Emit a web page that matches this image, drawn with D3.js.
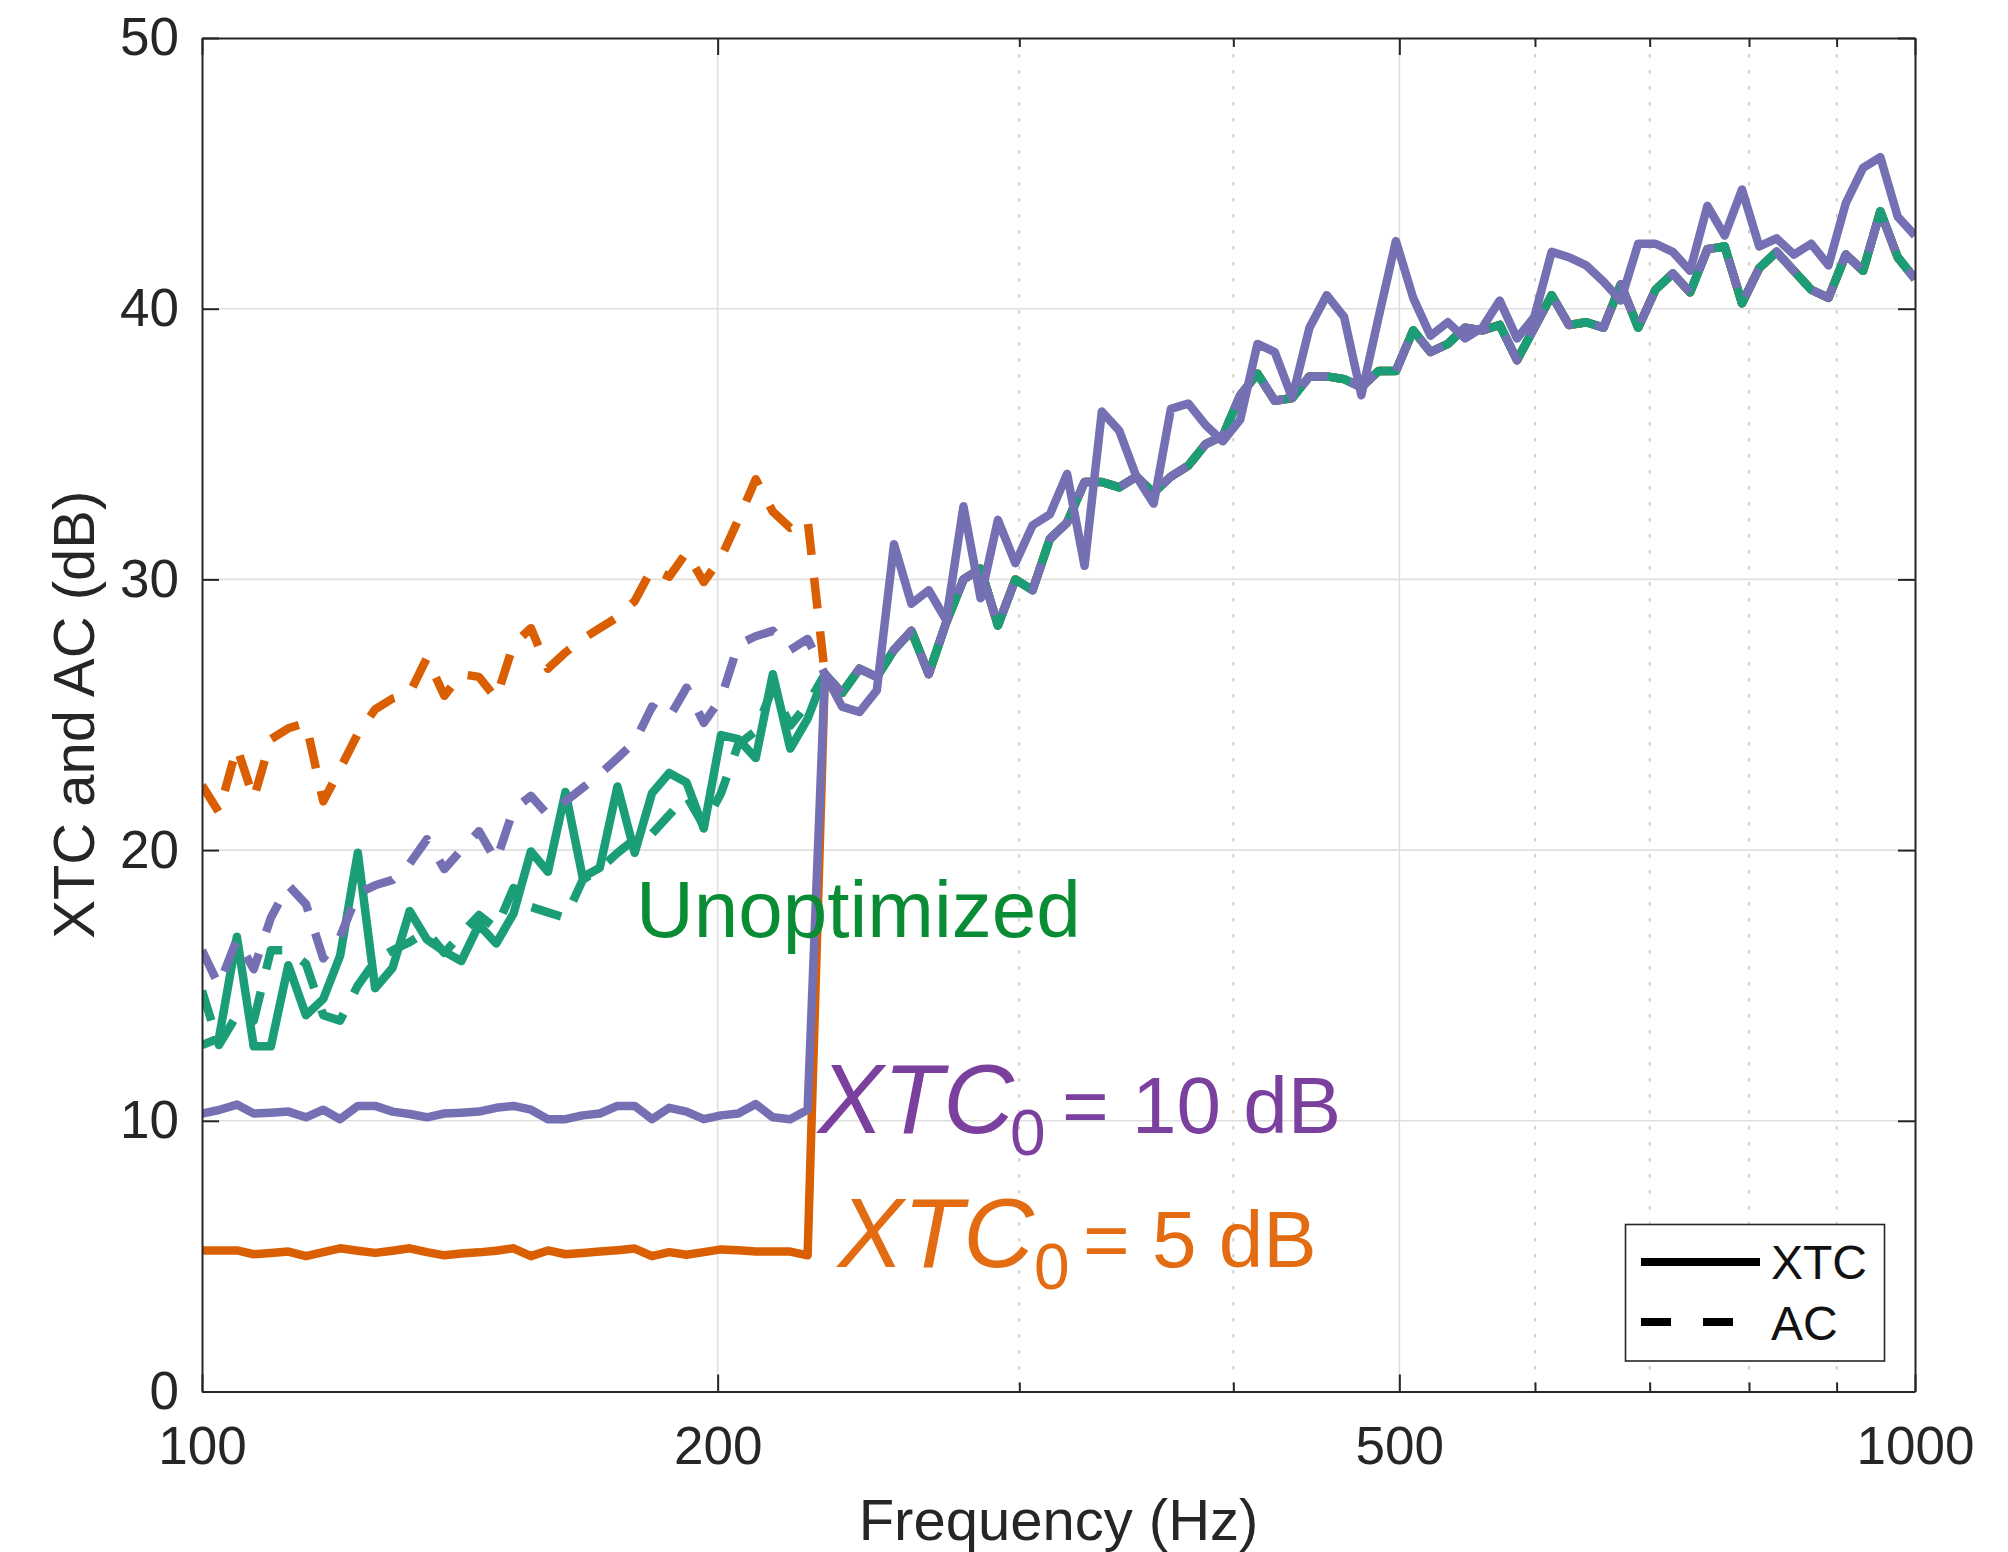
<!DOCTYPE html>
<html>
<head>
<meta charset="utf-8">
<script src="https://cdn.jsdelivr.net/npm/d3@7"></script>
<style>
  body { margin: 0; background: #fff; }
  text { font-family: "Liberation Sans", Arial, Helvetica, sans-serif; }
</style>
</head>
<body>
<svg width="2008" height="1552"></svg>
<script>
// frequency grid (Hz), log spaced
const freq = [100.0, 102.3, 104.8, 107.2, 109.7, 112.3, 115.0, 117.7, 120.4, 123.3,
  126.2, 129.2, 132.2, 135.3, 138.5, 141.7, 145.1, 148.5, 152.0, 155.6,
  159.2, 163.0, 166.8, 170.7, 174.8, 178.9, 183.1, 187.4, 191.8, 196.3,
  200.9, 205.6, 210.5, 215.4, 220.5, 225.7, 231.0, 236.4, 242.0, 247.7,
  253.5, 259.5, 265.6, 271.9, 278.3, 284.8, 291.5, 298.4, 305.4, 312.6,
  319.9, 327.5, 335.2, 343.1, 351.1, 359.4, 367.8, 376.5, 385.4, 394.4,
  403.7, 413.2, 422.9, 432.9, 443.1, 453.5, 464.2, 475.1, 486.3, 497.7,
  509.4, 521.4, 533.7, 546.2, 559.1, 572.2, 585.7, 599.5, 613.6, 628.0,
  642.8, 657.9, 673.4, 689.3, 705.5, 722.1, 739.1, 756.5, 774.3, 792.5,
  811.1, 830.2, 849.8, 869.7, 890.2, 911.2, 932.6, 954.5, 977.0, 1000.0];

// below ~226 Hz (first 36 points) each curve has its own values
const xtcUnoptLow = [12.8, 13.05, 16.8, 12.75, 12.75, 15.75, 13.9, 14.5, 16.1, 19.9,
  14.9, 15.65, 17.75, 16.7, 16.25, 15.9, 17.25, 16.55, 17.65, 19.95,
  19.2, 22.15, 19.0, 19.35, 22.35, 19.9, 22.1, 22.85, 22.5, 20.8,
  24.25, 24.1, 23.4, 26.5, 23.75, 24.85];
const acUnoptLow = [14.8, 12.8, 13.9, 13.7, 16.3, 16.3, 15.8, 13.9, 13.7, 15.0,
  15.9, 16.3, 16.6, 17.0, 16.2, 16.9, 17.6, 17.1, 18.6, 17.9,
  17.7, 17.5, 18.9, 19.3, 19.9, 20.4, 20.6, 21.3, 22.0, 20.9,
  22.1, 23.9, 24.4, 26.0, 24.6, 25.4];
const xtc10Low = [10.27, 10.4, 10.6, 10.27, 10.3, 10.34, 10.13, 10.41, 10.06, 10.55,
  10.55, 10.34, 10.25, 10.13, 10.27, 10.3, 10.34, 10.48, 10.55, 10.41,
  10.06, 10.06, 10.2, 10.27, 10.55, 10.55, 10.06, 10.48, 10.34, 10.06,
  10.2, 10.27, 10.62, 10.13, 10.06, 10.41];
const ac10Low = [16.3, 15.0, 16.7, 15.6, 17.5, 18.7, 18.0, 16.0, 16.8, 18.4,
  18.7, 18.9, 19.5, 20.4, 19.3, 20.0, 20.7, 19.6, 21.5, 22.0,
  21.3, 21.8, 22.3, 22.8, 23.4, 24.0, 25.3, 24.9, 26.0, 24.7,
  25.6, 27.6, 27.9, 28.1, 27.4, 27.8];
const xtc5Low = [5.21, 5.21, 5.21, 5.07, 5.12, 5.17, 5.0, 5.15, 5.29, 5.2,
  5.12, 5.2, 5.29, 5.15, 5.03, 5.1, 5.14, 5.2, 5.29, 5.0,
  5.21, 5.07, 5.12, 5.17, 5.22, 5.28, 5.0, 5.15, 5.05, 5.15,
  5.25, 5.22, 5.17, 5.17, 5.17, 5.03];
const ac5Low = [22.4, 21.4, 23.8, 21.9, 24.1, 24.5, 24.7, 21.8, 23.0, 24.3,
  25.2, 25.6, 25.8, 27.1, 25.7, 26.5, 26.4, 25.6, 27.6, 28.2,
  26.7, 27.3, 27.8, 28.2, 28.6, 29.2, 30.4, 30.1, 31.0, 29.9,
  30.8, 32.2, 33.7, 32.5, 31.9, 32.2];

// above the cutoff the curves coincide, except XTC for XTC0 = 10 dB
const sharedHigh = [26.5, 25.8, 26.7, 26.4, 27.4, 28.1, 26.5, 28.4, 30.0, 30.4,
  28.3, 30.0, 29.6, 31.5, 32.1, 33.6, 33.6, 33.4, 33.8, 33.2,
  33.8, 34.2, 35.0, 35.3, 36.8, 37.6, 36.6, 36.7, 37.5, 37.5,
  37.4, 37.1, 37.7, 37.7, 39.2, 38.4, 38.7, 39.3, 39.2, 39.4,
  38.1, 39.3, 40.5, 39.4, 39.5, 39.3, 40.9, 39.3, 40.7, 41.3,
  40.6, 42.2, 42.3, 40.2, 41.5, 42.1, 41.4, 40.7, 40.4, 42.0,
  41.4, 43.6, 41.9, 41.1];
const xtc10High = [26.5, 25.3, 25.1, 25.9, 31.3, 29.1, 29.6, 28.5, 32.7, 29.3,
  32.2, 30.6, 32.0, 32.4, 33.9, 30.5, 36.2, 35.5, 33.8, 32.8,
  36.3, 36.5, 35.7, 35.1, 35.9, 38.7, 38.4, 36.7, 39.3, 40.5,
  39.7, 36.8, 39.7, 42.5, 40.4, 39.0, 39.5, 38.9, 39.3, 40.3,
  38.9, 39.7, 42.1, 41.9, 41.6, 41.0, 40.3, 42.4, 42.4, 42.1,
  41.4, 43.8, 42.7, 44.4, 42.3, 42.6, 42.0, 42.4, 41.6, 43.9,
  45.2, 45.6, 43.4, 42.7];

const xMajor = [100, 200, 500, 1000];
const xMinor = [300, 400, 600, 700, 800, 900];
const yTicks = [0, 10, 20, 30, 40, 50];

const green = "#1b9e77", orange = "#d95f02", purple = "#7570b3";
const dash = "31,23";

// drawing order: orange, green, purple (purple on top)
const series = [
  {values: xtc5Low.concat(sharedHigh), color: orange, dashed: false},
  {values: ac5Low.concat(sharedHigh), color: orange, dashed: true},
  {values: xtcUnoptLow.concat(sharedHigh), color: green, dashed: false},
  {values: acUnoptLow.concat(sharedHigh), color: green, dashed: true},
  {values: xtc10Low.concat(xtc10High), color: purple, dashed: false},
  {values: ac10Low.concat(sharedHigh), color: purple, dashed: true}
];

const svg = d3.select("svg"),
      margin = {top: 38, right: 93, bottom: 160.5, left: 202},
      width = 2008 - margin.left - margin.right,
      height = 1552 - margin.top - margin.bottom;

const g = svg.append("g").attr("transform", `translate(${margin.left},${margin.top})`);

const x = d3.scaleLog().domain([100, 1000]).range([0, width]);
const y = d3.scaleLinear().domain([0, 50]).range([height, 0]);

svg.append("defs").append("clipPath").attr("id", "plotclip")
  .append("rect").attr("width", width).attr("height", height);

// grid
g.append("g").selectAll("line")
  .data(yTicks.slice(1, -1))
  .join("line")
  .attr("x1", 0).attr("x2", width)
  .attr("y1", d => y(d)).attr("y2", d => y(d))
  .attr("stroke", "#dfdfdf").attr("stroke-width", 1.6);

g.append("g").selectAll("line")
  .data([200, 500])
  .join("line")
  .attr("x1", d => x(d)).attr("x2", d => x(d))
  .attr("y1", 0).attr("y2", height)
  .attr("stroke", "#dfdfdf").attr("stroke-width", 1.6);

g.append("g").selectAll("line")
  .data(xMinor)
  .join("line")
  .attr("x1", d => x(d)).attr("x2", d => x(d))
  .attr("y1", 0).attr("y2", height)
  .attr("stroke", "#c2c2c2").attr("stroke-width", 1.5)
  .attr("stroke-dasharray", "3.5,12.5");

// "Unoptimized" label sits under the curves
svg.append("text")
  .attr("x", 636).attr("y", 937)
  .attr("font-size", 80)
  .attr("fill", "#0a8c34")
  .text("Unoptimized");

// curves
const line = d3.line()
  .x((d, i) => x(freq[i]))
  .y(d => y(d));

g.append("g").attr("clip-path", "url(#plotclip)")
  .selectAll("path")
  .data(series)
  .join("path")
  .attr("d", d => line(d.values))
  .attr("fill", "none")
  .attr("stroke", d => d.color)
  .attr("stroke-width", 8.5)
  .attr("stroke-linejoin", "round")
  .attr("stroke-dasharray", d => d.dashed ? dash : null);

// axes (ticks pointing inward, MATLAB style)
function styleAxis(sel) {
  sel.attr("color", "#262626")
     .attr("font-size", 53)
     .attr("font-family", "\"Liberation Sans\", Arial, Helvetica, sans-serif");
  sel.select(".domain").attr("stroke-width", 2);
  sel.selectAll(".tick line").attr("stroke-width", 2);
}

g.append("g")
  .attr("transform", `translate(0,${height})`)
  .call(d3.axisBottom(x).tickValues(xMajor).tickFormat(d3.format("d"))
        .tickSize(-17).tickSizeOuter(0).tickPadding(35))
  .call(styleAxis);

g.append("g")
  .attr("transform", `translate(0,${height})`)
  .call(d3.axisBottom(x).tickValues(xMinor).tickFormat("").tickSize(-9).tickSizeOuter(0))
  .call(styleAxis)
  .call(s => s.select(".domain").remove());

g.append("g")
  .call(d3.axisTop(x).tickValues(xMajor).tickFormat("").tickSize(-17).tickSizeOuter(0))
  .call(styleAxis);

g.append("g")
  .call(d3.axisTop(x).tickValues(xMinor).tickFormat("").tickSize(-9).tickSizeOuter(0))
  .call(styleAxis)
  .call(s => s.select(".domain").remove());

g.append("g")
  .call(d3.axisLeft(y).tickValues(yTicks).tickSize(-17).tickSizeOuter(0).tickPadding(23))
  .call(styleAxis);

g.append("g")
  .attr("transform", `translate(${width},0)`)
  .call(d3.axisRight(y).tickValues(yTicks).tickFormat("").tickSize(-17).tickSizeOuter(0))
  .call(styleAxis);

// axis titles
svg.append("text")
  .attr("x", margin.left + width / 2)
  .attr("y", 1540)
  .attr("text-anchor", "middle")
  .attr("font-size", 58)
  .attr("fill", "#262626")
  .text("Frequency (Hz)");

svg.append("text")
  .attr("transform", `translate(94,${margin.top + height / 2}) rotate(-90)`)
  .attr("text-anchor", "middle")
  .attr("font-size", 58)
  .attr("fill", "#262626")
  .text("XTC and AC (dB)");

// legend
const lg = svg.append("g");
lg.append("rect")
  .attr("x", 1625.5).attr("y", 1224.5)
  .attr("width", 259).attr("height", 136.5)
  .attr("fill", "#fff").attr("stroke", "#262626").attr("stroke-width", 1.6);
lg.append("line")
  .attr("x1", 1641).attr("x2", 1760).attr("y1", 1262).attr("y2", 1262)
  .attr("stroke", "#000").attr("stroke-width", 8);
lg.append("line")
  .attr("x1", 1641).attr("x2", 1760).attr("y1", 1322).attr("y2", 1322)
  .attr("stroke", "#000").attr("stroke-width", 8)
  .attr("stroke-dasharray", "30,32");
lg.append("text").attr("x", 1771).attr("y", 1279).attr("font-size", 48).attr("fill", "#111").text("XTC");
lg.append("text").attr("x", 1771).attr("y", 1340).attr("font-size", 48).attr("fill", "#111").text("AC");

// XTC0 annotations
function xtcLabel(colorText, xs, base, rest) {
  const a = svg.append("g").attr("fill", colorText);
  a.append("text")
    .attr("x", xs[0]).attr("y", base)
    .attr("font-family", "\"Liberation Serif\", \"Times New Roman\", serif")
    .attr("font-style", "italic")
    .attr("font-size", 98)
    .text("XTC");
  a.append("text")
    .attr("x", xs[1]).attr("y", base + 22)
    .attr("font-family", "\"Liberation Serif\", \"Times New Roman\", serif")
    .attr("font-size", 64)
    .text("0");
  a.append("text")
    .attr("x", xs[2]).attr("y", base)
    .attr("font-size", 80)
    .text("=");
  a.append("text")
    .attr("x", xs[3]).attr("y", base)
    .attr("font-size", 80)
    .text(rest);
}

xtcLabel("#7b3f9e", [818, 1010, 1062, 1132], 1133, "10 dB");
xtcLabel("#e36c13", [838, 1034, 1083, 1152], 1267, "5 dB");
</script>
</body>
</html>
